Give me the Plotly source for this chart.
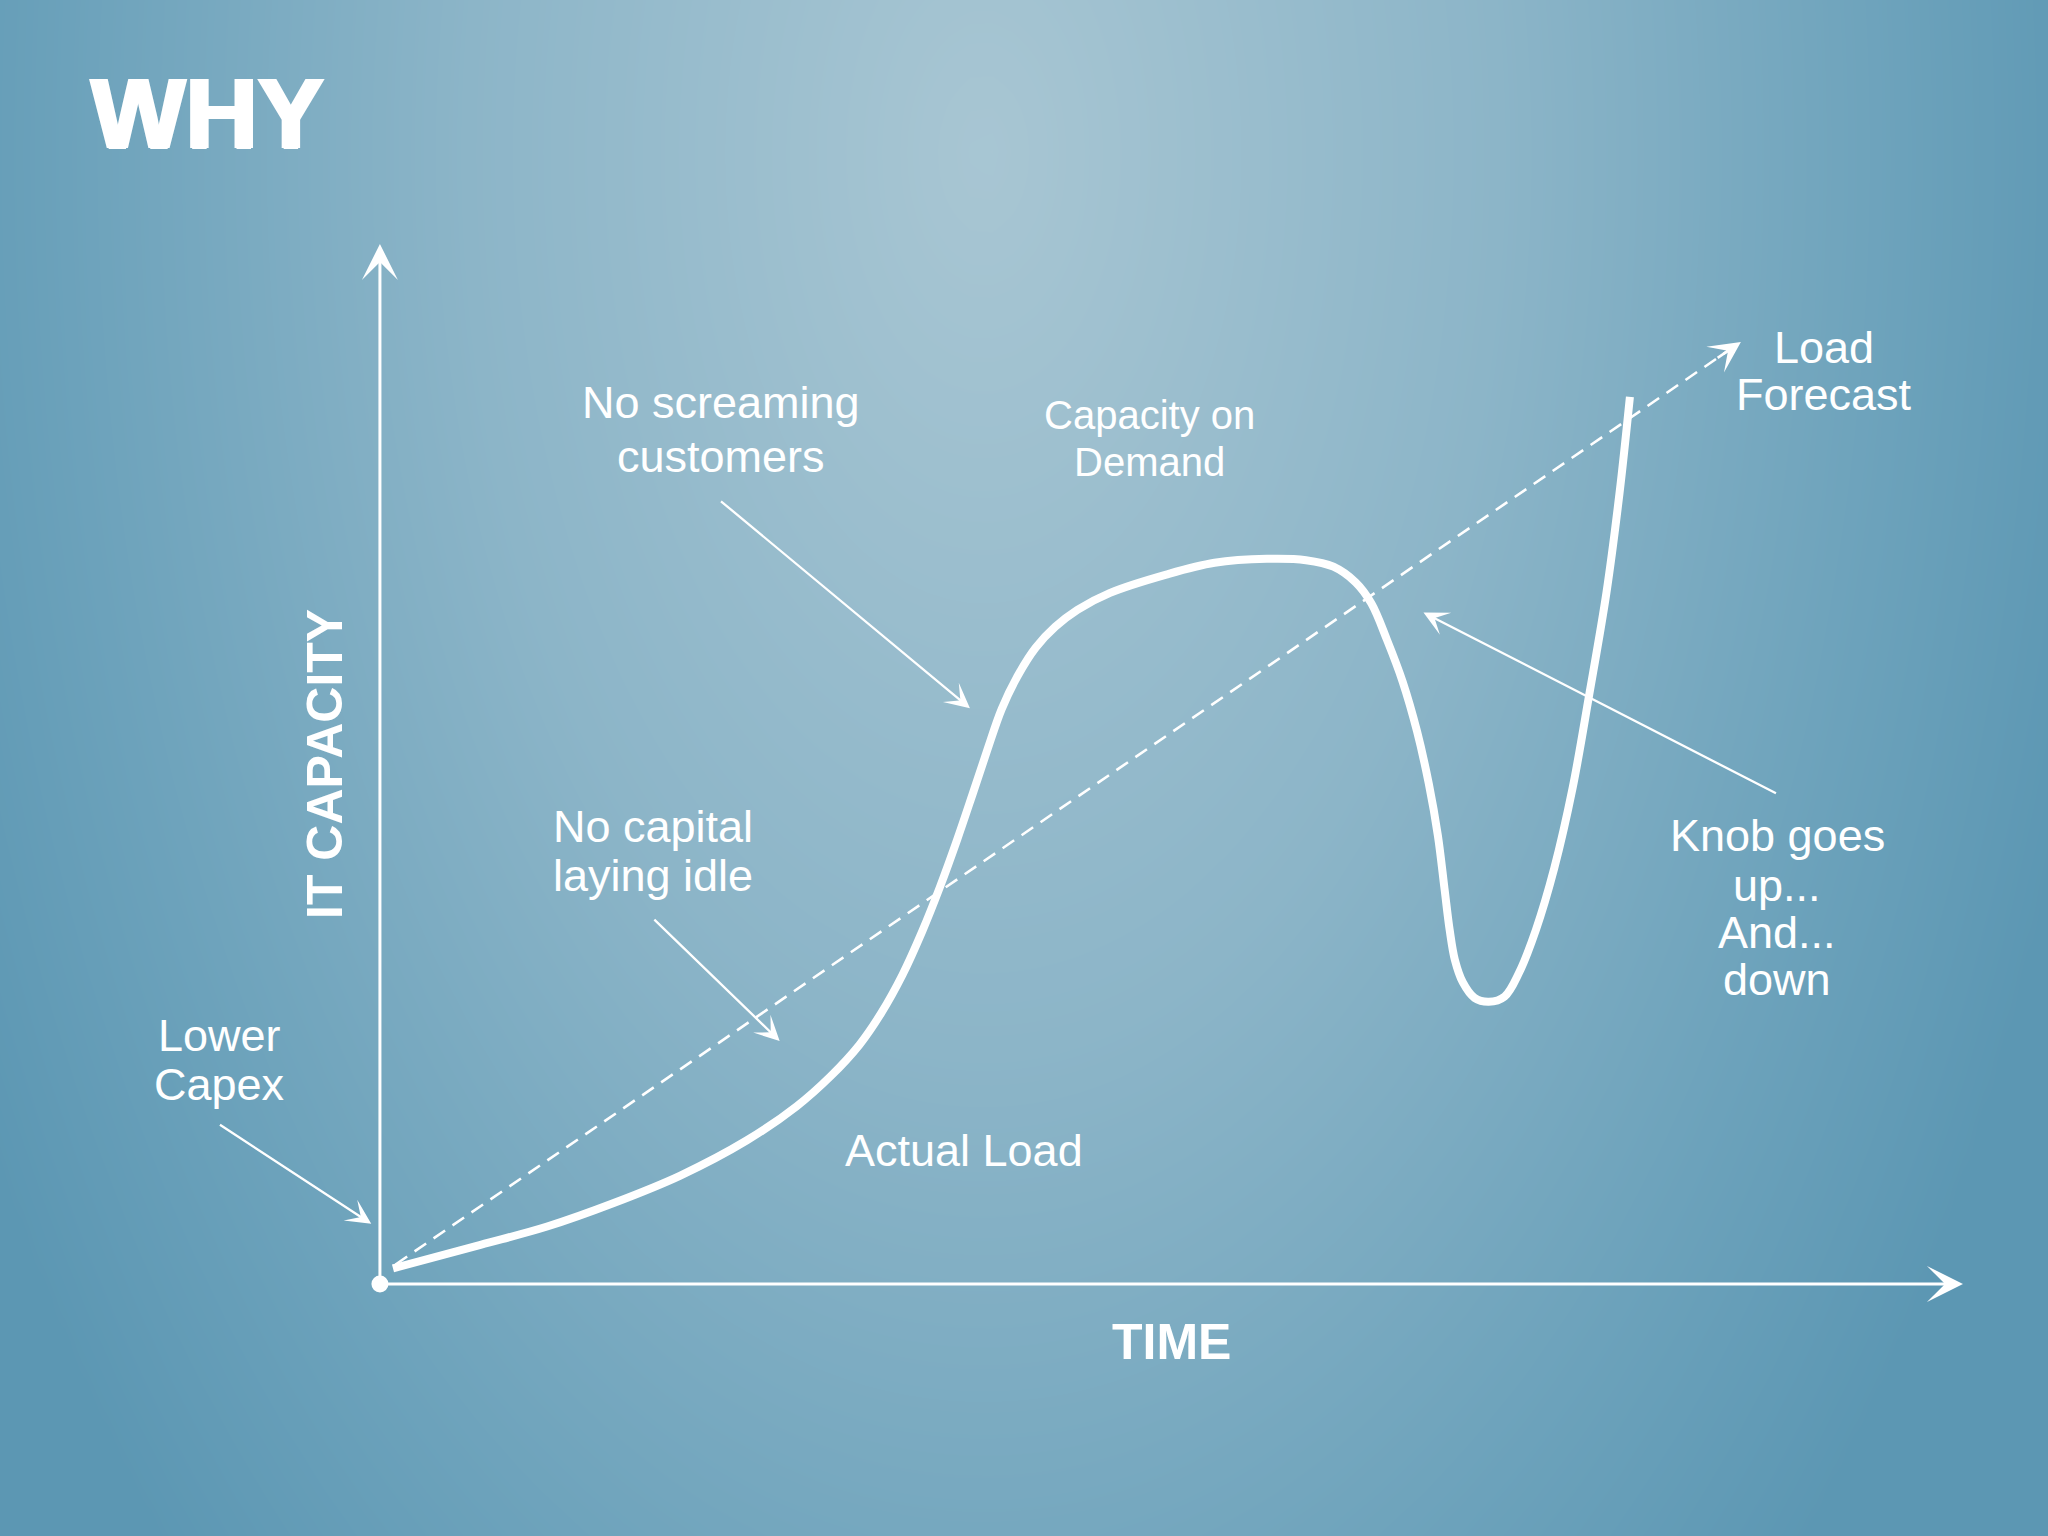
import numpy as np
import plotly.graph_objects as go

# ---------------- data (chart units: TIME 0-100 along the x arrow, IT CAPACITY 0-100 along the y arrow)
actual_time = [0.825, 6.353, 10.561, 14.769, 18.977, 23.185, 26.320, 28.465, 30.281, 31.683,
               33.003, 34.241, 35.396, 36.469, 37.459, 38.366, 39.274, 40.264, 41.419, 42.657,
               44.059, 46.122, 49.670, 52.723, 56.023, 58.498, 60.231, 61.634, 62.624, 63.614,
               64.604, 65.512, 66.254, 66.832, 67.244, 67.574, 67.904, 68.399, 69.142, 70.050,
               71.040, 71.947, 73.020, 74.175, 75.330, 76.403, 77.475, 78.300, 78.960]
actual_capacity = [1.508, 3.769, 5.528, 7.789, 10.427, 13.819, 17.085, 19.975, 22.990, 26.093,
                   29.711, 33.857, 38.254, 42.751, 47.198, 51.344, 55.276, 58.417, 61.181, 63.191,
                   64.824, 66.457, 68.216, 69.347, 69.724, 69.598, 68.970, 67.462, 65.452, 61.935,
                   57.915, 53.141, 48.116, 43.090, 38.065, 34.045, 31.156, 29.020, 27.513, 27.136,
                   27.638, 29.899, 34.045, 39.950, 47.613, 56.784, 66.457, 76.005, 85.302]

forecast_time = [0.99, 85.97]
forecast_capacity = [1.88, 90.58]

axis_time = [0, 100]
axis_capacity = [0, 100]

title_text = "WHY"
x_title = "TIME"
y_title = "IT CAPACITY"

label_lines = ["Lower", "Capex", "No capital", "laying idle", "No screaming", "customers",
               "Capacity on", "Demand", "Actual Load", "Load", "Forecast",
               "Knob goes", "up...", "And...", "down"]
label_time = [-10.15, -10.15, 17.24, 17.24, 21.53, 21.53, 48.60, 48.60, 36.88, 91.25, 91.25,
              88.28, 88.28, 88.28, 88.28]
label_capacity = [23.87, 19.22, 43.97, 39.32, 84.80, 79.52, 83.54, 79.02, 12.81, 90.08, 85.55,
                  43.09, 38.32, 33.79, 29.27]
label_size = [45, 45, 45, 45, 45, 45, 40, 40, 45, 45, 45, 45, 45, 45, 45]

pointer_tail_time = [-10.20, 17.24, 21.45, 88.28]
pointer_tail_capacity = [15.40, 35.18, 75.38, 47.11]
pointer_head_time = [-0.55, 25.25, 37.27, 65.92]
pointer_head_capacity = [5.80, 23.37, 55.36, 64.57]

# ---------------- layout constants
W, H = 2048, 1536
X_RANGE = [-24.0, 105.37]
Y_RANGE = [-24.23, 123.46]
FONT = "Liberation Sans, Arial, Helvetica, sans-serif"
WHITE = "#ffffff"

fig = go.Figure()

# background radial gradient (decoration only)
nx, ny = 96, 72
gx = np.linspace(X_RANGE[0], X_RANGE[1], nx)
gy = np.linspace(Y_RANGE[0], Y_RANGE[1], ny)
u = (gx - X_RANGE[0]) / (X_RANGE[1] - X_RANGE[0])
v = 1 - (gy - Y_RANGE[0]) / (Y_RANGE[1] - Y_RANGE[0])
U, V = np.meshgrid(u, v)
D = np.sqrt(((U - 0.48) / 0.56) ** 2 + ((V - 0.10) / 1.30) ** 2)
D = np.clip(D, 0, 1)
fig.add_trace(go.Heatmap(
    x=gx, y=gy, z=D, zmin=0, zmax=1, zsmooth="best", showscale=False, hoverinfo="skip",
    colorscale=[[0, "rgb(168,198,211)"], [0.45, "rgb(140,181,200)"],
                [0.8, "rgb(108,162,187)"], [1, "rgb(92,151,179)"]],
))

# forecast dashed line
fig.add_trace(go.Scatter(
    x=forecast_time, y=forecast_capacity, mode="lines",
    line=dict(color=WHITE, width=2.6, dash="14px,9px"), hoverinfo="skip", showlegend=False,
))

# actual load curve
fig.add_trace(go.Scatter(
    x=actual_time, y=actual_capacity, mode="lines",
    line=dict(color=WHITE, width=8, shape="spline", smoothing=1.0), hoverinfo="skip", showlegend=False,
))

# origin dot
fig.add_trace(go.Scatter(
    x=[axis_time[0]], y=[axis_capacity[0]], mode="markers",
    marker=dict(color=WHITE, size=17, line=dict(width=0)), hoverinfo="skip", showlegend=False,
))

annotations = []

# axes as arrows
annotations.append(dict(x=axis_time[1], y=axis_capacity[0], ax=axis_time[0], ay=axis_capacity[0],
                        xref="x", yref="y", axref="x", ayref="y", text="", showarrow=True,
                        arrowhead=3, arrowwidth=3, arrowsize=2.0, arrowcolor=WHITE))
annotations.append(dict(x=axis_time[0], y=axis_capacity[1], ax=axis_time[0], ay=axis_capacity[0],
                        xref="x", yref="y", axref="x", ayref="y", text="", showarrow=True,
                        arrowhead=3, arrowwidth=3, arrowsize=2.0, arrowcolor=WHITE))

# forecast arrowhead
ppx = W / (X_RANGE[1] - X_RANGE[0])
ppy = H / (Y_RANGE[1] - Y_RANGE[0])
dx = (forecast_time[1] - forecast_time[0]) * ppx
dy = (forecast_capacity[1] - forecast_capacity[0]) * ppy
L = np.hypot(dx, dy)
annotations.append(dict(x=forecast_time[1], y=forecast_capacity[1], ax=-dx / L * 30, ay=dy / L * 30,
                        xref="x", yref="y", text="", showarrow=True,
                        arrowhead=3, arrowwidth=2.6, arrowsize=2.0, arrowcolor=WHITE))

# pointer arrows
for tx, ty, hx, hy in zip(pointer_tail_time, pointer_tail_capacity, pointer_head_time, pointer_head_capacity):
    annotations.append(dict(x=hx, y=hy, ax=tx, ay=ty, xref="x", yref="y", axref="x", ayref="y",
                            text="", showarrow=True, arrowhead=3, arrowwidth=2.3, arrowsize=1.8,
                            arrowcolor=WHITE))

# callout labels
for t, lx, ly, sz in zip(label_lines, label_time, label_capacity, label_size):
    annotations.append(dict(x=lx, y=ly, xref="x", yref="y", text=t, showarrow=False,
                            xanchor="center", yanchor="middle",
                            font=dict(family=FONT, size=sz, color=WHITE)))

# titles
annotations.append(dict(x=-18.38, y=112.6, xref="x", yref="y", text=f"<b>{title_text}</b>",
                        showarrow=False, xanchor="left", yanchor="middle",
                        font=dict(family=FONT, size=100, color=WHITE,
                                  shadow="2px 0px 0px #ffffff, -2px 0px 0px #ffffff, 0px 1px 0px #ffffff")))
annotations.append(dict(x=50.0, y=-5.53, xref="x", yref="y", text=f"<b>{x_title}</b>",
                        showarrow=False, xanchor="center", yanchor="middle",
                        font=dict(family=FONT, size=50, color=WHITE)))
annotations.append(dict(x=-3.47, y=50.0, xref="x", yref="y", text=f"<b>{y_title}</b>",
                        showarrow=False, xanchor="center", yanchor="middle", textangle=-90,
                        font=dict(family=FONT, size=50, color=WHITE)))

fig.update_layout(
    width=W, height=H,
    margin=dict(l=0, r=0, t=0, b=0),
    paper_bgcolor="rgb(110,160,185)",
    plot_bgcolor="rgba(0,0,0,0)",
    showlegend=False,
    xaxis=dict(range=X_RANGE, visible=False, fixedrange=True),
    yaxis=dict(range=Y_RANGE, visible=False, fixedrange=True),
    annotations=annotations,
)

fig.write_html("out.html", config={"displayModeBar": False},
               post_script="document.body.style.margin='0';document.body.style.overflow='hidden';")
